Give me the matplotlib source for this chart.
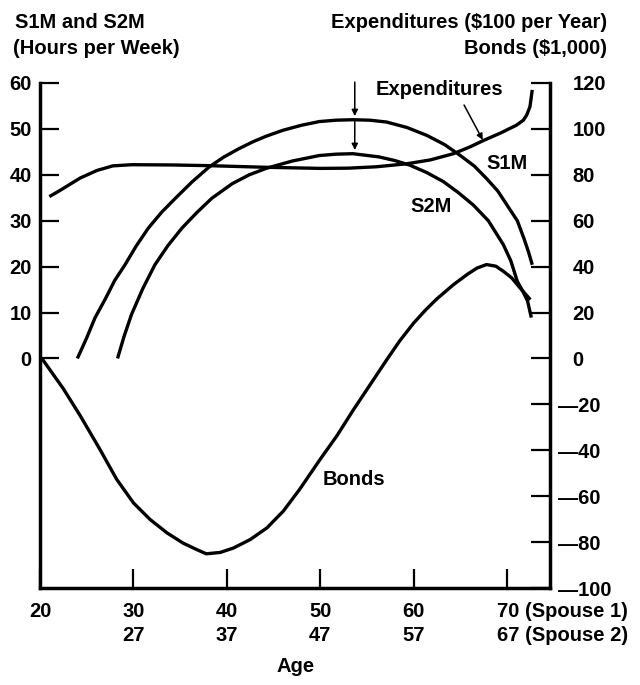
import matplotlib
matplotlib.use("Agg")
import matplotlib.pyplot as plt
import matplotlib.transforms as mtransforms

plt.rcParams['font.family'] = ['Liberation Sans', 'DejaVu Sans']
plt.rcParams['font.weight'] = 'bold'
plt.rcParams['font.size'] = 14.5

# S1M and S2M, hours per week (left axis)
s1m_age = [24.0, 25.0, 25.9, 27.0, 28.0, 29.1, 30.3, 31.6, 33.0, 34.5, 36.3,
           38.1, 39.7, 41.3, 42.8, 44.2, 46.0, 48.0, 49.9, 51.7, 53.5, 55.3,
           57.1, 59.3, 61.4, 63.3, 65.0, 66.5, 67.8, 69.0, 70.0, 71.1, 71.8,
           72.3, 72.7]
s1m_hours = [0, 4.5, 8.9, 13.0, 17.0, 20.4, 24.5, 28.4, 31.8, 34.9, 38.5,
             41.7, 43.9, 45.7, 47.2, 48.4, 49.7, 50.8, 51.6, 51.9, 52.0, 51.9,
             51.5, 50.3, 48.6, 46.6, 44.2, 41.9, 39.2, 36.5, 33.4, 30.0, 26.2,
             23.2, 20.4]

s2m_age = [28.3, 29.0, 29.8, 31.0, 32.3, 33.7, 35.2, 36.8, 38.4, 40.6, 42.4,
           44.2, 47.0, 49.9, 51.7, 53.5, 56.3, 58.0, 59.6, 61.4, 63.2, 64.8,
           66.4, 68.0, 69.6, 70.4, 71.1, 71.7, 72.2, 72.6]
s2m_hours = [0, 4.8, 9.6, 15.2, 20.4, 24.6, 28.4, 31.8, 34.9, 38.1, 40.0,
             41.4, 43.0, 44.2, 44.5, 44.6, 43.9, 43.1, 42.1, 40.5, 38.5, 36.1,
             33.4, 30.0, 24.8, 21.3, 16.8, 14.6, 12.5, 8.9]

# Expenditures ($100 per year) and Bonds ($1,000) (right axis)
exp_age = [21.0, 22.1, 24.3, 26.1, 27.8, 29.8, 34.0, 38.0, 44.0, 50.0, 53.0,
           56.0, 59.25, 61.8, 64.25, 66.0, 67.5, 69.3, 71.0, 71.75, 72.1,
           72.45, 72.6, 72.7]
exp_val = [70.5, 73.1, 78.6, 81.9, 83.9, 84.4, 84.3, 84.0, 83.3, 82.8, 82.9,
           83.5, 84.8, 86.5, 89.2, 92.1, 95.0, 98.2, 101.6, 103.8, 106.0,
           109.6, 114.0, 117.0]

bond_age = [20.2, 22.5, 24.3, 26.4, 28.2, 30.0, 31.8, 33.6, 35.3, 36.8, 37.8,
            39.3, 40.7, 42.5, 44.3, 46.05, 47.8, 50.0, 51.8, 53.5, 55.3, 57.1,
            58.5, 60.0, 61.3, 62.5, 64.25, 65.8, 66.8, 67.8, 68.8, 69.6, 70.5,
            71.4, 72.5]
bond_val = [0, -13.2, -24.9, -39.5, -52.6, -62.9, -70.2, -76.0, -80.4, -83.3,
            -85.1, -84.5, -82.6, -78.9, -73.8, -66.5, -57.0, -43.9, -33.6,
            -22.7, -11.7, -0.7, 7.6, 15.4, 21.2, 26.0, 32.1, 36.8, 39.4, 40.9,
            40.2, 38.0, 35.1, 30.7, 25.6]

age_ticks = [20, 30, 40, 50, 60, 70]
age_labels = ['20', '30\n27', '40\n37', '50\n47', '60\n57',
              '70 (Spouse 1)\n67 (Spouse 2)']
left_ticks = [0, 10, 20, 30, 40, 50, 60]
right_ticks = [-100, -80, -60, -40, -20, 0, 20, 40, 60, 80, 100, 120]

fig = plt.figure(figsize=(6.4, 6.85), dpi=100)
ax = fig.add_axes([40 / 640, 1 - 588 / 685, 510 / 640, 505 / 685])
ax2 = ax.twinx()

line_kw = dict(color='black', lw=2.4, solid_joinstyle='round', solid_capstyle='butt')
ax.plot(s1m_age, s1m_hours, **line_kw)
ax.plot(s2m_age, s2m_hours, **line_kw)
ax2.plot(exp_age, exp_val, **line_kw)
ax2.plot(bond_age, bond_val, **line_kw)

ax.set_xlim(20, 74.6)
ax.set_ylim(-50, 60)
ax2.set_ylim(-100, 120)

for a in (ax, ax2):
    a.spines['top'].set_visible(False)
    for s in a.spines.values():
        s.set_linewidth(2.5)
ax.spines['right'].set_visible(False)
ax2.spines['left'].set_visible(False)
ax2.spines['bottom'].set_visible(False)

ax.set_xticks(age_ticks)
ax.set_xticklabels(age_labels, linespacing=1.35)
ax.set_yticks(left_ticks)
ax.tick_params(axis='x', direction='in', length=13.5, width=1.6, pad=10)
ax.tick_params(axis='y', direction='in', length=13.5, width=1.6, pad=6)
ax2.set_yticks(right_ticks)
ax2.set_yticklabels([('\u2014' + str(-v)) if v < 0 else str(v) for v in right_ticks])
ax2.tick_params(axis='y', direction='in', length=13.5, width=1.6, pad=6)

# positive labels on the right sit past the width of the dash
shift = mtransforms.ScaledTranslation(14 / 100, 0, fig.dpi_scale_trans)
for lab in ax2.get_yticklabels():
    if not lab.get_text().startswith('\u2014'):
        lab.set_transform(lab.get_transform() + shift)

last = ax.get_xticklabels()[-1]
last.set_horizontalalignment('left')
last.set_transform(last.get_transform()
                   + mtransforms.ScaledTranslation(-10 / 100, 0, fig.dpi_scale_trans))

# curve labels
ax.text(70.0, 42.4, 'S1M', ha='center', va='center')
ax.text(61.9, 33.1, 'S2M', ha='center', va='center')
ax.text(53.6, -26.4, 'Bonds', ha='center', va='center')
ax.text(62.8, 58.5, 'Expenditures', ha='center', va='center')
arrow_kw = dict(arrowstyle='-|>', color='black', lw=1.1, mutation_scale=9,
                shrinkA=0, shrinkB=0)
ax.annotate('', xy=(67.4, 47.6), xytext=(65.4, 55.2), arrowprops=arrow_kw)
ax.annotate('', xy=(53.7, 52.8), xytext=(53.7, 60.2), arrowprops=arrow_kw,
            annotation_clip=False)
ax.annotate('', xy=(53.7, 45.4), xytext=(53.7, 51.6), arrowprops=arrow_kw)

# axis titles
fig.text(15 / 640, 1 - 23 / 685, 'S1M and S2M', ha='left', va='center')
fig.text(13 / 640, 1 - 48 / 685, '(Hours per Week)', ha='left', va='center')
fig.text(607 / 640, 1 - 23 / 685, 'Expenditures ($100 per Year)', ha='right', va='center')
fig.text(607 / 640, 1 - 48 / 685, 'Bonds ($1,000)', ha='right', va='center')
fig.text(296 / 640, 1 - 666 / 685, 'Age', ha='center', va='center')

fig.savefig('out.png', dpi=100)
